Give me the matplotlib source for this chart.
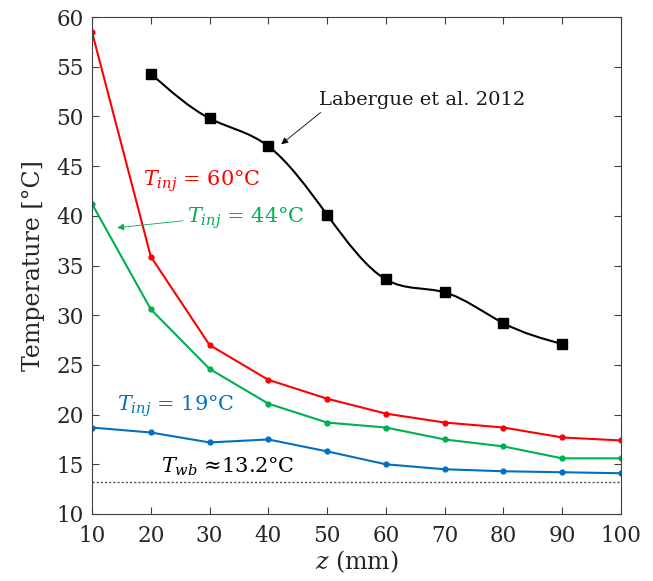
import numpy as np
import matplotlib
matplotlib.use("Agg")
import matplotlib.pyplot as plt
from matplotlib.path import Path
from matplotlib.patches import PathPatch

plt.rcParams['font.family'] = ['DejaVu Serif']
plt.rcParams['mathtext.fontset'] = 'dejavuserif'

# data
z = [10, 20, 30, 40, 50, 60, 70, 80, 90, 100]
t_60 = [58.5, 35.9, 27.0, 23.5, 21.6, 20.1, 19.2, 18.7, 17.7, 17.4]
t_44 = [41.2, 30.6, 24.6, 21.1, 19.2, 18.7, 17.5, 16.8, 15.6, 15.6]
t_19 = [18.7, 18.2, 17.2, 17.5, 16.3, 15.0, 14.5, 14.3, 14.2, 14.1]
z_lab = [20, 30, 40, 50, 60, 70, 80, 90]
t_lab = [54.3, 49.8, 47.0, 40.1, 33.6, 32.3, 29.2, 27.1]
t_wb = 13.2

fig = plt.figure(figsize=(6.53, 5.81), dpi=100)
ax = fig.add_axes([92/653, 1 - 514/581, (621-92)/653, (514-17)/581])

ax.axhline(t_wb, color='0.3', ls=(0, (1.5, 1.5)), lw=1.0)

ax.plot(z, t_60, color='#ff0000', lw=1.5, marker='o', ms=3.5)
ax.plot(z, t_44, color='#00b050', lw=1.5, marker='o', ms=3.5)
ax.plot(z, t_19, color='#0072bd', lw=1.5, marker='o', ms=3.5)

# natural cubic spline through the Labergue points, drawn as a bezier path
xs = np.array(z_lab, float)
ys = np.array(t_lab, float)
n = len(xs)
h = np.diff(xs)
A = np.zeros((n, n))
b = np.zeros(n)
A[0, 0] = A[-1, -1] = 1
for i in range(1, n - 1):
    A[i, i-1] = h[i-1]
    A[i, i] = 2 * (h[i-1] + h[i])
    A[i, i+1] = h[i]
    b[i] = 6 * ((ys[i+1] - ys[i]) / h[i] - (ys[i] - ys[i-1]) / h[i-1])
M = np.linalg.solve(A, b)
slope = np.zeros(n)
for i in range(n - 1):
    slope[i] = (ys[i+1] - ys[i]) / h[i] - h[i] * (2 * M[i] + M[i+1]) / 6
slope[-1] = (ys[-1] - ys[-2]) / h[-1] + h[-1] * (M[-2] + 2 * M[-1]) / 6
verts = [(xs[0], ys[0])]
codes = [Path.MOVETO]
for i in range(n - 1):
    d = h[i] / 3
    verts += [(xs[i] + d, ys[i] + d * slope[i]),
              (xs[i+1] - d, ys[i+1] - d * slope[i+1]),
              (xs[i+1], ys[i+1])]
    codes += [Path.CURVE4] * 3
ax.add_patch(PathPatch(Path(verts, codes), fill=False, color='black', lw=1.5))
ax.plot(z_lab, t_lab, 's', color='black', ms=6.5)

ax.set_xlim(10, 100)
ax.set_ylim(10, 60)
ax.set_xticks(z)
ax.set_yticks(range(10, 61, 5))
ax.tick_params(direction='in', top=True, right=True, labelsize=15.5,
               length=5, colors='0.25', labelcolor='0.15')
ax.tick_params(axis='x', pad=8)
ax.tick_params(axis='y', pad=6)
for s in ax.spines.values():
    s.set_linewidth(0.8)
    s.set_color('0.25')

ax.set_xlabel('$z$ (mm)', fontsize=17, labelpad=1, color='0.15')
ax.set_ylabel('Temperature [°C]', fontsize=17, labelpad=8, color='0.15')

ax.annotate('', xy=(42.2, 47.2), xytext=(48.9, 50.4),
            arrowprops=dict(arrowstyle='-|>', color='black', lw=0.6,
                            mutation_scale=10, shrinkA=0, shrinkB=0))
ax.text(48.7, 51.65, 'Labergue et al. 2012', fontsize=14, va='center',
        color='0.1')
ax.text(18.6, 43.5, '$T_{inj}$ = 60°C', color='#ff0000', fontsize=15, va='center')
ax.annotate('', xy=(14.3, 38.8), xytext=(25.5, 39.5),
            arrowprops=dict(arrowstyle='-|>', color='#00b050', lw=0.6,
                            mutation_scale=10, shrinkA=0, shrinkB=0))
ax.text(26.1, 39.8, '$T_{inj}$ = 44°C', color='#00b050', fontsize=15, va='center')
ax.text(14.3, 20.8, '$T_{inj}$ = 19°C', color='#0072bd', fontsize=15, va='center')
ax.text(21.8, 14.7, '$T_{wb}$ ≈13.2°C', color='black', fontsize=15, va='center')

fig.savefig('out.png', dpi=100)
